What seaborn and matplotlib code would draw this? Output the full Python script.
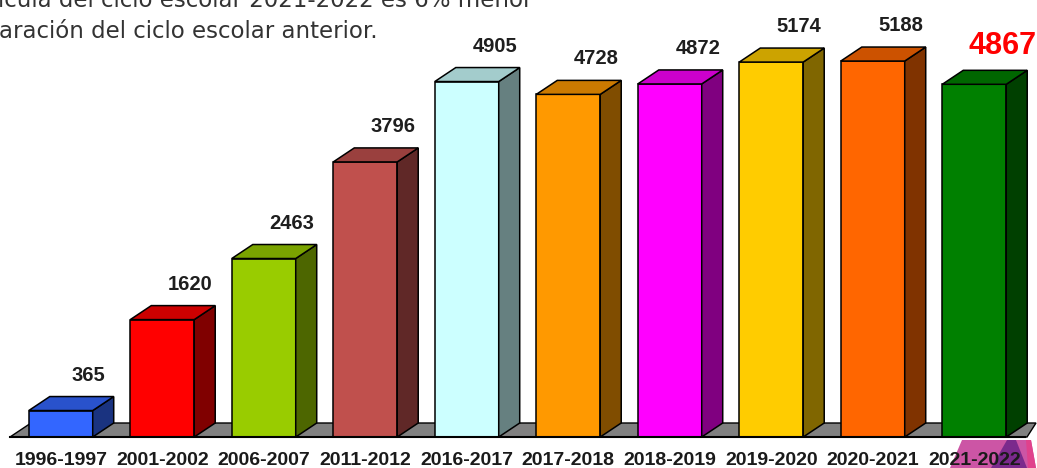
import numpy as np
import pandas as pd
import matplotlib
matplotlib.use("Agg")
import matplotlib.pyplot as plt
import matplotlib.colors as mcolors
from matplotlib.patches import Polygon
import seaborn as sns

# ---------------- data ----------------
ciclos = ["1996-1997", "2001-2002", "2006-2007", "2011-2012", "2016-2017",
          "2017-2018", "2018-2019", "2019-2020", "2020-2021", "2021-2022"]
matricula = [365, 1620, 2463, 3796, 4905, 4728, 4872, 5174, 5188, 4867]
colores = ["#3366ff", "#ff0000", "#99cc00", "#c0504d", "#ccffff",
           "#ff9900", "#ff00ff", "#ffcc00", "#ff6600", "#008000"]
texto_linea1 = "ícula del ciclo escolar 2021-2022 es 6% menor"
texto_linea2 = "aración del ciclo escolar anterior."

df = pd.DataFrame({"ciclo": ciclos, "matricula": matricula})

# ---------------- figure ----------------
sns.set_style("white")
W, H = 1037, 468
fig = plt.figure(figsize=(W / 100, H / 100), dpi=100)
ax_left, ax_bottom, ax_w, ax_h = 10, 31, 1015, 429   # pixels
ax = fig.add_axes([ax_left / W, ax_bottom / H, ax_w / W, ax_h / H])
ax.set_zorder(1)
ax.patch.set_alpha(0)
ymax = 5920
ax.set_xlim(-0.5, len(ciclos) - 0.5)
ax.set_ylim(0, ymax)

# floor
px_x = ax_w / len(ciclos)          # px per category unit
px_y = ax_h / ymax                 # px per value unit
dx = 21 / px_x
dy = 14 / px_y
n = len(ciclos)
floor = Polygon([(-0.5, 0), (n - 0.48, 0),
                 (n - 0.5 + 11 / px_x, dy), (-0.5 + dx, dy)],
                closed=True, facecolor="#808080", edgecolor="black",
                linewidth=1, zorder=0.5, clip_on=False)
ax.add_patch(floor)

sns.barplot(data=df, x="ciclo", y="matricula", hue="ciclo",
            palette=colores, width=0.63, legend=False,
            edgecolor="black", linewidth=1.1, saturation=1, ax=ax, zorder=2)


def shade(c, f):
    r, g, b = mcolors.to_rgb(c)
    return (r * f, g * f, b * f)


bars = [p for p in ax.patches if p is not floor]
for i, p in enumerate(bars):
    x0 = p.get_x()
    w = p.get_width()
    h = p.get_height()
    c = colores[i]
    top = Polygon([(x0, h), (x0 + w, h), (x0 + w + dx, h + dy), (x0 + dx, h + dy)],
                  closed=True, facecolor=shade(c, 0.8), edgecolor="black",
                  linewidth=1.1, zorder=2, clip_on=False)
    side = Polygon([(x0 + w, 0), (x0 + w + dx, dy), (x0 + w + dx, h + dy), (x0 + w, h)],
                   closed=True, facecolor=shade(c, 0.5), edgecolor="black",
                   linewidth=1.1, zorder=2, clip_on=False)
    ax.add_patch(side)
    ax.add_patch(top)
    xc = x0 + w / 2 + 28 / px_x
    if i == len(bars) - 1:
        ax.text(xc, h + dy + 16 / px_y, f"{matricula[i]}", ha="center", va="baseline",
                fontsize=22, fontweight="bold", color="#ff0000",
                family="Liberation Sans", clip_on=False)
    else:
        ax.text(xc, h + dy + 16 / px_y, f"{matricula[i]}", ha="center", va="baseline",
                fontsize=14.5, fontweight="bold", color="#1e1e1e",
                family="Liberation Sans", clip_on=False)

# axes styling
for s in ["top", "right", "left"]:
    ax.spines[s].set_visible(False)
ax.spines["bottom"].set_color("black")
ax.spines["bottom"].set_linewidth(1.5)
ax.spines["bottom"].set_zorder(3)
ax.set_yticks([])
ax.set_xticks(range(n))
ax.set_xticklabels(ciclos, fontsize=14, fontweight="bold", color="#1a1a1a",
                   family="Liberation Sans")
ax.set_xticks(np.arange(n) - 0.5, minor=True)
ax.tick_params(axis="x", which="major", length=0, pad=10.5)
ax.tick_params(axis="x", which="minor", length=6, width=1.5, color="black")
ax.set_xlabel("")
ax.set_ylabel("")

# decorative shape at bottom right (behind the tick labels)
def fpx(pts):
    return [(x / W, 1 - y / H) for x, y in pts]

fig.patches.append(Polygon(fpx([(962, 440), (1031, 440), (1036, 468), (950, 468)]),
                           closed=True, facecolor="#cc55a5", edgecolor="none",
                           transform=fig.transFigure, zorder=-1))
fig.patches.append(Polygon(fpx([(1007, 440), (1016, 440), (1027, 468), (991, 468)]),
                           closed=True, facecolor="#7b2a8c", edgecolor="none",
                           transform=fig.transFigure, zorder=-1))
fig.patches.append(Polygon(fpx([(1026, 440), (1031, 440), (1036, 468), (1028, 468)]),
                           closed=True, facecolor="#e0418c", edgecolor="none",
                           transform=fig.transFigure, zorder=-1))

# header text (cropped at the top, as in the source image)
fig.text(-2 / W, 1 - 7 / H, texto_linea1, fontsize=16.5, family="DejaVu Sans",
         color="#333333", ha="left", va="baseline")
fig.text(-1 / W, 1 - 38 / H, texto_linea2, fontsize=16.5, family="DejaVu Sans",
         color="#333333", ha="left", va="baseline")

fig.savefig("out.png", dpi=100, facecolor="white")
